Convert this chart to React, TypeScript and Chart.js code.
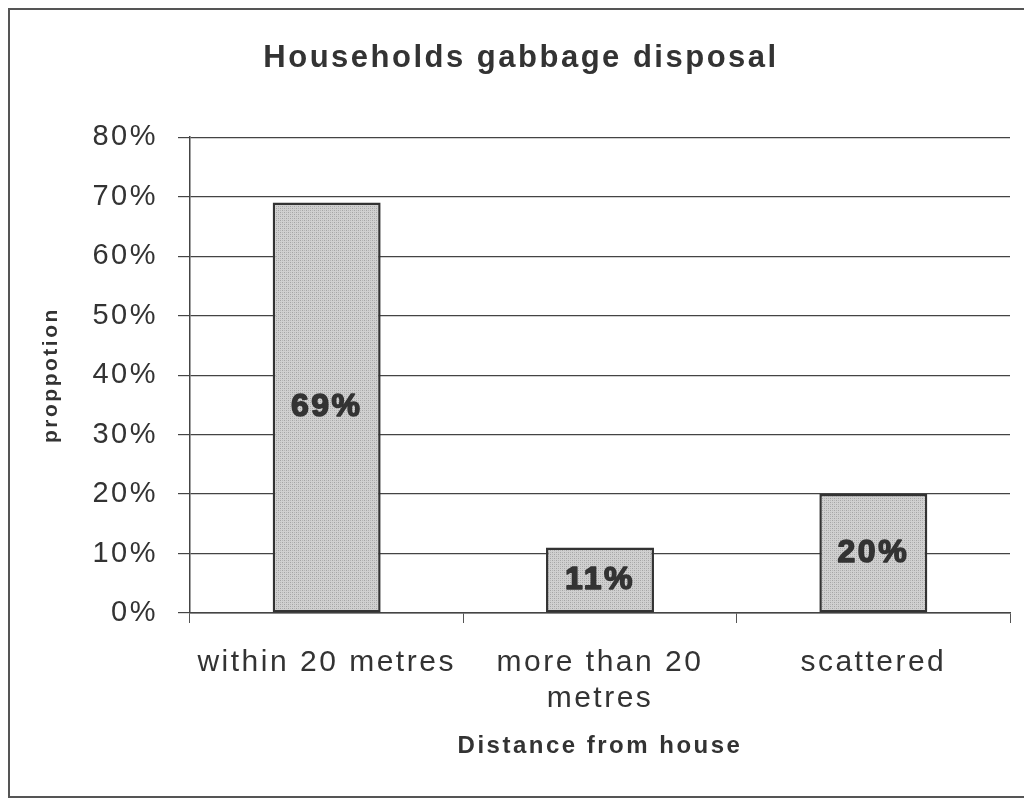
import React, { useEffect, useRef } from "react";
import { Chart, registerables } from "chart.js";

Chart.register(...registerables);

const chartTitle = "Households gabbage disposal";
const categories: (string | string[])[] = ["within 20 metres", ["more than 20", "metres"], "scattered"];
const proportions = [69, 11, 20];
const valueLabels = ["69%", "11%", "20%"];
const yTicks = [0, 10, 20, 30, 40, 50, 60, 70, 80];
const yTitle = "proppotion";
const xTitle = "Distance from house";

const FONT = "'Liberation Sans', Arial, sans-serif";

const spacingPlugin = {
  id: "letterSpacing",
  beforeDraw(chart: any) {
    (chart.ctx as any).letterSpacing = "2.5px";
  },
};

const barLabelPlugin = {
  id: "barLabels",
  afterDatasetsDraw(chart: any) {
    const ctx = chart.ctx;
    const meta = chart.getDatasetMeta(0);
    ctx.save();
    ctx.font = `bold 32px ${FONT}`;
    ctx.textAlign = "center";
    ctx.textBaseline = "middle";
    ctx.fillStyle = "#333333";
    ctx.strokeStyle = "#333333";
    ctx.lineWidth = 1.5;
    ctx.lineJoin = "round";
    meta.data.forEach((bar: any, i: number) => {
      const y = (bar.y + bar.base) / 2;
      ctx.strokeText(valueLabels[i], bar.x, y);
      ctx.fillText(valueLabels[i], bar.x, y);
    });
    ctx.restore();
  },
};

function makeStipple(): CanvasPattern | string {
  const c = document.createElement("canvas");
  c.width = 4;
  c.height = 4;
  const g = c.getContext("2d");
  if (!g) return "#c4c4c4";
  g.fillStyle = "#d0d0d0";
  g.fillRect(0, 0, 4, 4);
  g.fillStyle = "#a4a4a4";
  g.fillRect(0, 0, 1, 1);
  g.fillRect(2, 2, 1, 1);
  g.fillStyle = "#b6b6b6";
  g.fillRect(2, 0, 1, 1);
  g.fillRect(0, 2, 1, 1);
  const p = g.createPattern(c, "repeat");
  return p || "#c4c4c4";
}

export default function App() {
  const ref = useRef<HTMLCanvasElement>(null);

  useEffect(() => {
    if (!ref.current) return;
    const chart = new Chart(ref.current, {
      type: "bar",
      data: {
        labels: categories,
        datasets: [
          {
            data: proportions,
            backgroundColor: makeStipple() as any,
            borderColor: "#333333",
            borderWidth: 2.5,
            borderSkipped: false,
            barPercentage: 0.395,
            categoryPercentage: 1,
          },
        ],
      },
      options: {
        responsive: false,
        animation: false,
        devicePixelRatio: 1,
        layout: { padding: { left: 22, right: 22, top: 0, bottom: 0 } },
        plugins: {
          legend: { display: false },
          tooltip: { enabled: false },
          title: {
            display: true,
            text: chartTitle,
            color: "#333333",
            font: { family: FONT, size: 31, weight: "bold", lineHeight: 1.2 },
            padding: { top: 30, bottom: 60 },
          },
        },
        scales: {
          x: {
            grid: {
              display: true,
              drawOnChartArea: false,
              offset: true,
              color: "#555555",
              tickLength: 10,
              lineWidth: 1,
            },
            border: { display: true, color: "#444444", width: 1.5 },
            ticks: {
              color: "#333333",
              font: { family: FONT, size: 30, lineHeight: 1.2 },
              padding: 22,
              maxRotation: 0,
              autoSkip: false,
            },
            title: {
              display: true,
              text: xTitle,
              color: "#333333",
              font: { family: FONT, size: 24, weight: "bold", lineHeight: 1.2 },
              padding: { top: 0, bottom: 35 },
            },
            afterFit(scale: any) {
              scale.height = 183;
            },
          },
          y: {
            min: 0,
            max: 80,
            afterBuildTicks(scale: any) {
              scale.ticks = yTicks.map((v) => ({ value: v }));
            },
            grid: {
              color: "#444444",
              lineWidth: 1.2,
              tickLength: 12,
            },
            border: { display: true, color: "#444444", width: 1.5 },
            ticks: {
              color: "#333333",
              font: { family: FONT, size: 29 },
              padding: 20,
              callback: (v: any) => `${v}%`,
            },
            title: {
              display: true,
              text: yTitle,
              color: "#333333",
              font: { family: FONT, size: 21, weight: "bold", lineHeight: 1.2 },
              padding: { top: 7, bottom: 0 },
            },
            afterFit(scale: any) {
              scale.width = 158;
            },
          },
        },
      },
      plugins: [spacingPlugin, barLabelPlugin],
    });
    return () => chart.destroy();
  }, []);

  return (
    <div
      style={{
        width: 1022,
        height: 786,
        borderLeft: "2px solid #555",
        borderTop: "2px solid #555",
        borderBottom: "2px solid #555",
        background: "#fff",
      }}
    >
      <canvas ref={ref} width={1022} height={786} style={{ display: "block" }} />
    </div>
  );
}
